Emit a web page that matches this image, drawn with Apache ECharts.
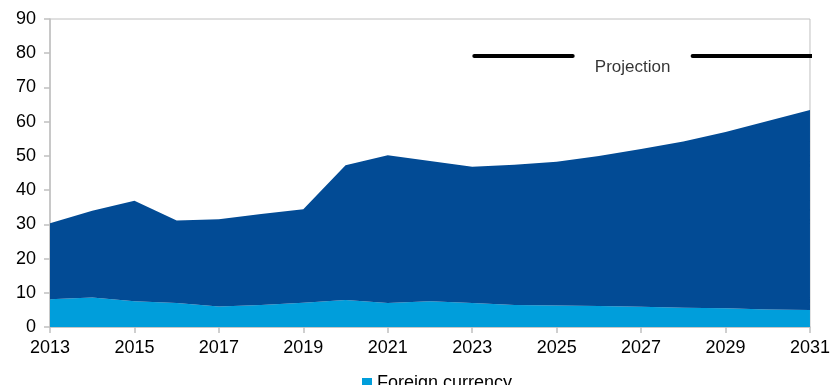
<!DOCTYPE html>
<html>
<head>
<meta charset="utf-8">
<script src="https://cdn.jsdelivr.net/npm/echarts@6/dist/echarts.min.js"></script>
<style>
  html, body { margin: 0; padding: 0; background: #fff; }
  #chart { width: 833px; height: 385px; }
</style>
</head>
<body>
<div id="chart"></div>
<script>
// Years on the horizontal axis
const years = ['2013','2014','2015','2016','2017','2018','2019','2020','2021','2022',
               '2023','2024','2025','2026','2027','2028','2029','2030','2031'];

// Debt stock by currency (stacked areas)
const foreignCurrency  = [8.1, 8.6, 7.5, 7.0, 6.0, 6.4, 7.1, 7.9, 7.0, 7.5,
                          7.0, 6.4, 6.3, 6.1, 5.9, 5.6, 5.5, 5.1, 5.0];
const domesticCurrency = [22.2, 25.4, 29.4, 24.1, 25.5, 26.6, 27.3, 39.4, 43.2, 41.0,
                          39.8, 41.0, 42.0, 43.9, 46.1, 48.6, 51.5, 55.1, 58.4];

// Projection bracket: two line pieces with the label between them
const projectionLeft  = [[2023.05, 79.2], [2025.38, 79.2]];
const projectionRight = [[2028.22, 79.2], [2031.05, 79.2]];
const projectionLabel = [[2026.8, 75.8]];
const projectionText = 'Projection';

// Value-axis ticks
const yMin = 0, yMax = 90, yStep = 10;

const font = 'Liberation Sans, Arial, sans-serif';
const chart = echarts.init(document.getElementById('chart'));

chart.setOption({
  animation: false,
  backgroundColor: '#fff',
  grid: {
    left: 50, right: 21, top: 19, bottom: 58,
    show: true, borderColor: '#c0c0c0', borderWidth: 1, backgroundColor: '#fff'
  },
  legend: {
    data: ['Foreign currency', 'Domestic currency'],
    left: 357, top: 369, width: 190,
    itemWidth: 10, itemHeight: 10, itemGap: 10,
    icon: 'rect',
    textStyle: { fontFamily: font, fontSize: 18, color: '#000' }
  },
  xAxis: [{
    type: 'category',
    data: years,
    boundaryGap: false,
    axisLine: { lineStyle: { color: '#c0c0c0', width: 1.5 } },
    axisTick: { interval: 1, length: 6, lineStyle: { color: '#c0c0c0', width: 1.5 } },
    axisLabel: { interval: 1, margin: 12, fontFamily: font, fontSize: 18, color: '#000' },
    splitLine: { show: false }
  }, {
    type: 'value',
    min: 2013, max: 2031,
    show: false
  }],
  yAxis: {
    type: 'value',
    min: yMin, max: yMax, interval: yStep,
    axisLine: { show: true, lineStyle: { color: '#c0c0c0', width: 1.5 } },
    axisTick: { show: true, length: 6, lineStyle: { color: '#c0c0c0', width: 1.5 } },
    axisLabel: { margin: 14, fontFamily: font, fontSize: 18, color: '#000' },
    splitLine: { show: false }
  },
  series: [{
    name: 'Foreign currency',
    type: 'line',
    stack: 'debt',
    data: foreignCurrency,
    symbol: 'none',
    lineStyle: { width: 0 },
    itemStyle: { color: '#009EDB' },
    areaStyle: { color: '#009EDB', opacity: 1 }
  }, {
    name: 'Domestic currency',
    type: 'line',
    stack: 'debt',
    data: domesticCurrency,
    symbol: 'none',
    lineStyle: { width: 0 },
    itemStyle: { color: '#024B95' },
    areaStyle: { color: '#024B95', opacity: 1 }
  }, {
    type: 'line',
    xAxisIndex: 1,
    data: projectionLeft,
    symbol: 'none',
    silent: true,
    lineStyle: { color: '#000', width: 4, cap: 'round' },
    z: 5
  }, {
    type: 'line',
    xAxisIndex: 1,
    data: projectionRight,
    symbol: 'none',
    silent: true,
    lineStyle: { color: '#000', width: 4, cap: 'round' },
    z: 5
  }, {
    type: 'scatter',
    xAxisIndex: 1,
    data: projectionLabel,
    symbolSize: 0,
    silent: true,
    label: {
      show: true, position: 'inside',
      formatter: projectionText,
      fontFamily: font, fontSize: 17, color: '#000'
    },
    z: 5
  }]
});
</script>
</body>
</html>
